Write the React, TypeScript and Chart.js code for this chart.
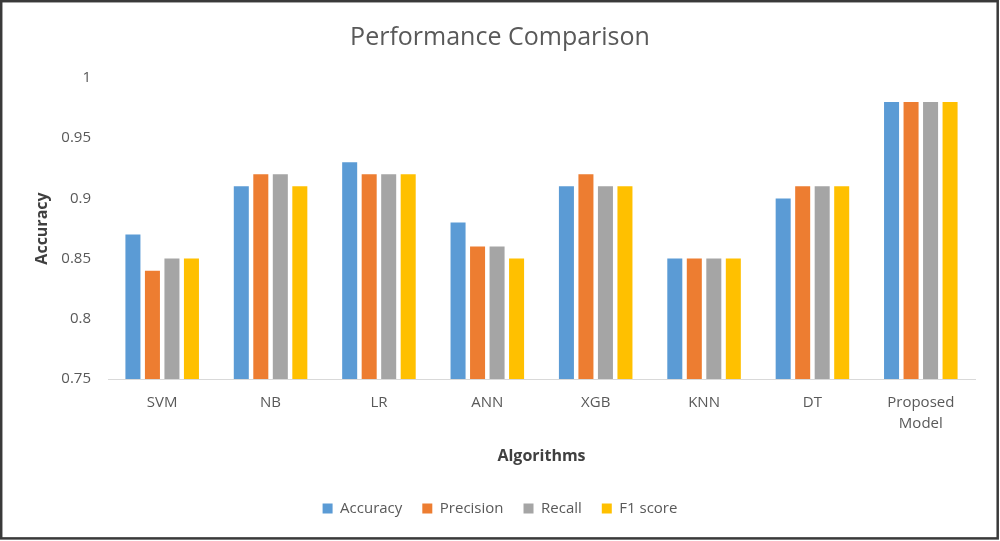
import React, { useEffect, useRef } from "react";
import { Chart, registerables } from "chart.js";

Chart.register(...registerables);

const categories = ["SVM", "NB", "LR", "ANN", "XGB", "KNN", "DT", ["Proposed", "Model"]];
const accuracy = [0.87, 0.91, 0.93, 0.88, 0.91, 0.85, 0.9, 0.98];
const precision = [0.84, 0.92, 0.92, 0.86, 0.92, 0.85, 0.91, 0.98];
const recall = [0.85, 0.92, 0.92, 0.86, 0.91, 0.85, 0.91, 0.98];
const f1score = [0.85, 0.91, 0.92, 0.85, 0.91, 0.85, 0.91, 0.98];
const seriesNames = ["Accuracy", "Precision", "Recall", "F1 score"];
const colors = ["#5B9BD5", "#ED7D31", "#A5A5A5", "#FFC000"];
const yMin = 0.75;
const yMax = 1;
const yStep = 0.05;

const FONT = "'Open Sans', sans-serif";

const borderPlugin = {
  id: "outerBorder",
  afterDraw(chart: any) {
    const ctx = chart.ctx;
    ctx.save();
    ctx.strokeStyle = "#3a3a3a";
    ctx.lineWidth = 2.5;
    ctx.strokeRect(1.2, 1.2, chart.width - 3.5, chart.height - 3.8);
    ctx.restore();
  },
};

export default function App() {
  const ref = useRef<HTMLCanvasElement>(null);
  useEffect(() => {
    document.body.style.margin = "0";
    const data = [accuracy, precision, recall, f1score];
    const chart = new Chart(ref.current!, {
      type: "bar",
      data: {
        labels: categories as any,
        datasets: data.map((d, i) => ({
          label: seriesNames[i],
          data: d,
          backgroundColor: colors[i],
          borderWidth: 0,
          categoryPercentage: 0.72,
          barPercentage: 0.77,
        })),
      },
      options: {
        responsive: false,
        animation: false,
        layout: { padding: { left: 25, right: 25, top: 0, bottom: 15 } },
        plugins: {
          title: {
            display: true,
            text: "Performance Comparison",
            color: "#595959",
            font: { family: FONT, size: 25, weight: "normal" },
            padding: { top: 23, bottom: 25 },
          },
          legend: {
            position: "bottom",
            labels: {
              color: "#595959",
              font: { family: FONT, size: 15 },
              boxWidth: 10,
              boxHeight: 10,
              padding: 20,
            },
          },
          tooltip: { enabled: false },
        },
        scales: {
          x: {
            grid: { display: false, drawTicks: false },
            border: { display: true, color: "#d9d9d9", width: 1 },
            ticks: {
              color: "#595959",
              font: { family: FONT, size: 15, lineHeight: 1.4 },
              padding: 13,
              maxRotation: 0,
              autoSkip: false,
            },
            title: {
              display: true,
              text: "Algorithms",
              color: "#404040",
              font: { family: FONT, size: 16, weight: "bold" },
              padding: { top: 15, bottom: 15 },
            },
            afterFit: (s: any) => {
              s.height = 102;
            },
          },
          y: {
            min: yMin,
            max: yMax,
            grid: { display: false, drawTicks: false },
            border: { display: false },
            ticks: {
              stepSize: yStep,
              color: "#595959",
              font: { family: FONT, size: 15 },
              padding: 17,
              callback: (v: any) => `${+Number(v).toFixed(2)}`,
            },
            title: {
              display: true,
              text: "Accuracy",
              color: "#404040",
              font: { family: FONT, size: 16, weight: "bold" },
              padding: { top: 8, bottom: 4 },
            },
            afterFit: (s: any) => {
              s.width = 83;
            },
          },
        },
      },
      plugins: [borderPlugin],
    });
    return () => chart.destroy();
  }, []);
  return (
    <div style={{ position: "absolute", left: 0, top: 0, width: 1000, height: 541, background: "#fff" }}>
      <canvas ref={ref} width={1000} height={541} />
    </div>
  );
}
